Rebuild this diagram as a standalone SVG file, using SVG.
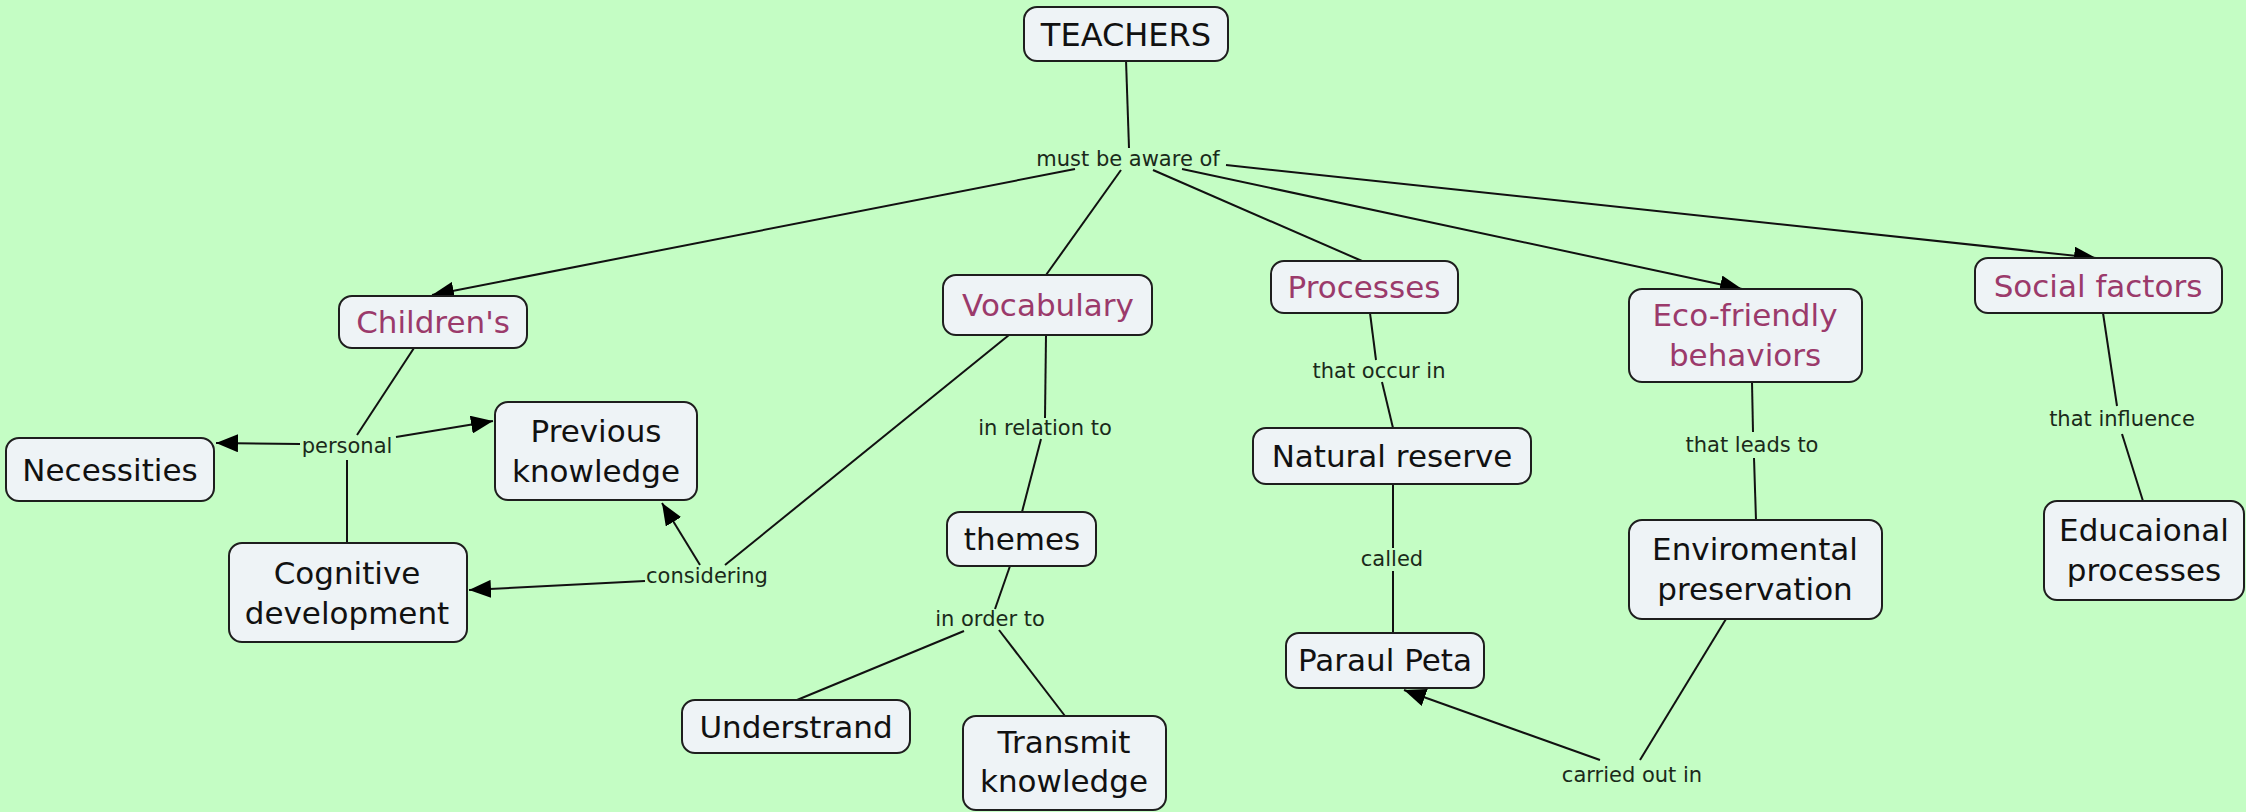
<svg xmlns="http://www.w3.org/2000/svg" width="2246" height="812" viewBox="0 0 2246 812">
<style>
.bg{fill:#c4fdc4}
.node rect{fill:#eef3f6;stroke:#1e1e1e;stroke-width:2}
.node text{font-family:"DejaVu Sans",Verdana,sans-serif;font-size:31px;fill:#111;text-anchor:middle}
.node text.pink{fill:#9b3a6b}
.lbl{font-family:"DejaVu Sans",Verdana,sans-serif;font-size:21px;fill:#1a2a1a;text-anchor:middle}
.edge{stroke:#111;stroke-width:2;fill:none}
.arr{marker-end:url(#ah)}
</style>
<defs>
<marker id="ah" markerUnits="userSpaceOnUse" markerWidth="22" markerHeight="18" viewBox="0 0 22 18" refX="22" refY="9" orient="auto">
<path d="M0,0 L22,9 L0,18 Z" fill="#000"/>
</marker>
</defs>
<rect class="bg" x="0" y="0" width="2246" height="812"/>

<g id="connectors">
<line class="edge" x1="1126" y1="60" x2="1129" y2="148"/>
<line class="edge arr" x1="1075" y1="169" x2="432" y2="295"/>
<line class="edge" x1="1121" y1="170" x2="1046" y2="275"/>
<line class="edge" x1="1153" y1="170" x2="1362" y2="261"/>
<line class="edge arr" x1="1182" y1="169" x2="1742" y2="289"/>
<line class="edge arr" x1="1226" y1="165" x2="2096" y2="258"/>

<line class="edge" x1="414" y1="348" x2="357" y2="435"/>
<line class="edge arr" x1="300" y1="444" x2="216" y2="443"/>
<line class="edge arr" x1="396" y1="437" x2="493" y2="421"/>
<line class="edge" x1="347" y1="460" x2="347" y2="543"/>

<line class="edge" x1="1009" y1="335" x2="725" y2="565"/>
<line class="edge arr" x1="700" y1="565" x2="662" y2="503"/>
<line class="edge arr" x1="645" y1="581" x2="469" y2="590"/>

<line class="edge" x1="1046" y1="335" x2="1045" y2="418"/>
<line class="edge" x1="1041" y1="439" x2="1022" y2="512"/>
<line class="edge" x1="1010" y1="566" x2="995" y2="609"/>
<line class="edge" x1="964" y1="631" x2="797" y2="700"/>
<line class="edge" x1="999" y1="630" x2="1065" y2="716"/>

<line class="edge" x1="1370" y1="313" x2="1376" y2="360"/>
<line class="edge" x1="1382" y1="382" x2="1393" y2="428"/>
<line class="edge" x1="1393" y1="484" x2="1393" y2="548"/>
<line class="edge" x1="1393" y1="571" x2="1393" y2="632"/>
<line class="edge arr" x1="1600" y1="760" x2="1404" y2="690"/>
<line class="edge" x1="1640" y1="760" x2="1726" y2="619"/>

<line class="edge" x1="1752" y1="382" x2="1753" y2="432"/>
<line class="edge" x1="1754" y1="458" x2="1756" y2="520"/>

<line class="edge" x1="2103" y1="313" x2="2117" y2="406"/>
<line class="edge" x1="2122" y1="434" x2="2143" y2="501"/>

<text class="lbl" x="1128" y="166">must be aware of</text>
<text class="lbl" x="347" y="453">personal</text>
<text class="lbl" x="707" y="583">considering</text>
<text class="lbl" x="1045" y="435">in relation to</text>
<text class="lbl" x="990" y="626">in order to</text>
<text class="lbl" x="1379" y="378">that occur in</text>
<text class="lbl" x="1392" y="566">called</text>
<text class="lbl" x="1632" y="782">carried out in</text>
<text class="lbl" x="1752" y="452">that leads to</text>
<text class="lbl" x="2122" y="426">that influence</text>
</g>

<g id="teachers" class="node"><rect x="1024" y="7" width="204" height="54" rx="13"/><text x="1126" y="46" style="font-size:32px">TEACHERS</text></g>
<g id="childrens" class="node"><rect x="339" y="296" width="188" height="52" rx="13"/><text class="pink" x="433" y="333">Children's</text></g>
<g id="vocabulary" class="node"><rect x="943" y="275" width="209" height="60" rx="13"/><text class="pink" x="1048" y="316">Vocabulary</text></g>
<g id="processes" class="node"><rect x="1271" y="261" width="187" height="52" rx="13"/><text class="pink" x="1364" y="298">Processes</text></g>
<g id="ecofriendly" class="node"><rect x="1629" y="289" width="233" height="93" rx="13"/><text class="pink" x="1745" y="326">Eco-friendly</text><text class="pink" x="1745" y="366">behaviors</text></g>
<g id="socialfactors" class="node"><rect x="1975" y="258" width="247" height="55" rx="13"/><text class="pink" x="2098" y="297">Social factors</text></g>
<g id="necessities" class="node"><rect x="6" y="438" width="208" height="63" rx="13"/><text x="110" y="481">Necessities</text></g>
<g id="previousknowledge" class="node"><rect x="495" y="402" width="202" height="98" rx="13"/><text x="596" y="442">Previous</text><text x="596" y="482">knowledge</text></g>
<g id="cognitive" class="node"><rect x="229" y="543" width="238" height="99" rx="13"/><text x="347" y="584">Cognitive</text><text x="347" y="624">development</text></g>
<g id="themes" class="node"><rect x="947" y="512" width="149" height="54" rx="13"/><text x="1022" y="550">themes</text></g>
<g id="naturalreserve" class="node"><rect x="1253" y="428" width="278" height="56" rx="13"/><text x="1392" y="467">Natural reserve</text></g>
<g id="enviromental" class="node"><rect x="1629" y="520" width="253" height="99" rx="13"/><text x="1755" y="560">Enviromental</text><text x="1755" y="600">preservation</text></g>
<g id="educaional" class="node"><rect x="2044" y="501" width="200" height="99" rx="13"/><text x="2144" y="541">Educaional</text><text x="2144" y="581">processes</text></g>
<g id="paraulpeta" class="node"><rect x="1286" y="633" width="198" height="55" rx="13"/><text x="1385" y="671">Paraul Peta</text></g>
<g id="understrand" class="node"><rect x="682" y="700" width="228" height="53" rx="13"/><text x="796" y="738">Understrand</text></g>
<g id="transmit" class="node"><rect x="963" y="716" width="203" height="94" rx="13"/><text x="1064" y="753">Transmit</text><text x="1064" y="792">knowledge</text></g>
</svg>
